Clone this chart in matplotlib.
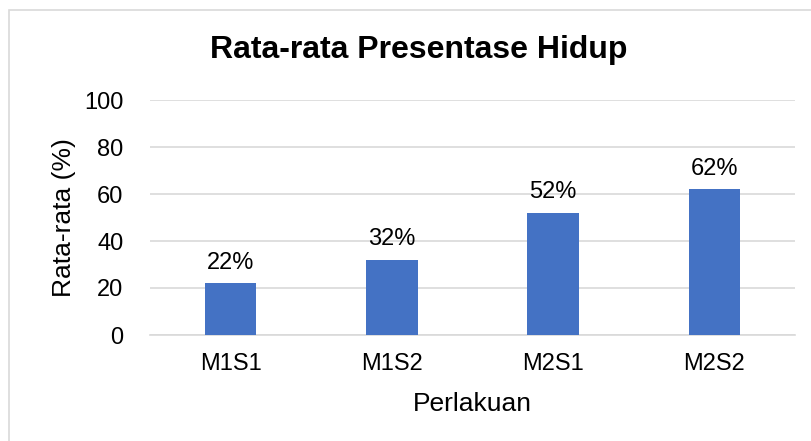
import matplotlib.pyplot as plt
from matplotlib.patches import Rectangle

plt.rcParams['font.family'] = ['Liberation Sans', 'DejaVu Sans']

categories = ['M1S1', 'M1S2', 'M2S1', 'M2S2']
values = [22, 32, 52, 62]
labels = ['22%', '32%', '52%', '62%']

W, H = 811, 441
fig = plt.figure(figsize=(W / 100, H / 100), dpi=100)

# chart frame (cut off at right and bottom like the reference)
fig.patches.append(Rectangle((9 / W, -0.1), 1.2, 1 - 10 / H + 0.1, transform=fig.transFigure,
                             fill=False, edgecolor='#D9D9D9', linewidth=1.2))

ax = fig.add_axes([150 / W, 1 - 335 / H, 645 / W, 235 / H])
x = range(len(categories))
ax.bar(x, values, width=0.32, color='#4472C4', zorder=3)
for xi, v, lab in zip(x, values, labels):
    ax.text(xi, v + 4, lab, ha='center', va='bottom', fontsize=17)

ax.set_xlim(-0.5, 3.5)
ax.set_ylim(0, 100)
ax.set_yticks(range(0, 101, 20))
ax.set_xticks(list(x))
ax.set_xticklabels(categories)
ax.tick_params(axis='both', length=0, labelsize=17)
ax.tick_params(axis='x', pad=13)
ax.tick_params(axis='y', pad=19)
ax.grid(axis='y', color='#D9D9D9', linewidth=1.2, zorder=0)
for s in ['top', 'right', 'left']:
    ax.spines[s].set_visible(False)
ax.spines['bottom'].set_color('#D9D9D9')
ax.spines['bottom'].set_linewidth(1.2)

ax.set_xlabel('Perlakuan', fontsize=19, labelpad=12)
ax.set_ylabel('Rata-rata (%)', fontsize=19, labelpad=6)
fig.text(419 / W, 1 - 58 / H, 'Rata-rata Presentase Hidup', ha='center', va='baseline',
         fontsize=23, fontweight='bold')

fig.savefig('out.png', dpi=100)
